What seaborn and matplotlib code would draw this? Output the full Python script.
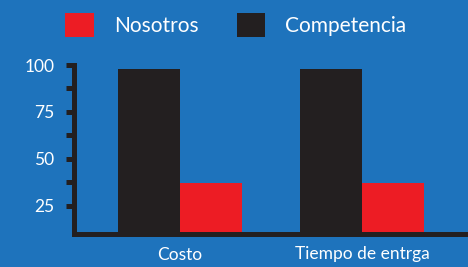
import pandas as pd
import seaborn as sns
import matplotlib.pyplot as plt
from matplotlib.patches import Patch
from matplotlib.ticker import MultipleLocator, FixedLocator

# datos
categorias = ['Costo', 'Tiempo de entrga']
competencia = [98, 98]
nosotros = [37, 37]
series = ['Competencia', 'Nosotros']
colores = {'Competencia': '#231f20', 'Nosotros': '#ed1c24'}

fondo = '#1e73bc'
oscuro = '#231f20'

df = pd.DataFrame({
    'categoria': categorias * 2,
    'serie': ['Competencia'] * len(categorias) + ['Nosotros'] * len(categorias),
    'valor': competencia + nosotros,
})

sns.set_style('white')
plt.rcParams['font.family'] = ['Lato', 'DejaVu Sans']

fig = plt.figure(figsize=(4.68, 2.67), dpi=100, facecolor=fondo)
ax = fig.add_axes([74 / 468, 1 - 234 / 267, 392 / 468, 169 / 267])
ax.set_facecolor(fondo)

sns.barplot(data=df, x='categoria', y='valor', hue='serie', hue_order=series,
            palette=colores, saturation=1, width=0.68, gap=0, linewidth=0,
            ax=ax, legend=False)

ax.set_xlim(-0.58, 1.57)
ax.set_ylim(10, 100)
ax.yaxis.set_major_locator(MultipleLocator(25))
ax.yaxis.set_minor_locator(FixedLocator([37.5, 62.5, 87.5]))
ax.set_xlabel('')
ax.set_ylabel('')

for s in ['top', 'right']:
    ax.spines[s].set_visible(False)
for s in ['left', 'bottom']:
    ax.spines[s].set_color(oscuro)
    ax.spines[s].set_linewidth(3.6)

ax.tick_params(axis='y', which='both', direction='out', length=6, width=3.6,
               color=oscuro, labelcolor='white', labelsize=12.5, pad=8, left=True)
ax.tick_params(axis='x', length=0, labelcolor='white', labelsize=12.5, pad=9)

handles = [Patch(facecolor=colores['Nosotros'], linewidth=0, label='Nosotros'),
           Patch(facecolor=colores['Competencia'], linewidth=0, label='Competencia')]
fig.legend(handles=handles, loc='center', bbox_to_anchor=(236 / 468, 1 - 25 / 267),
           ncol=2, frameon=False, fontsize=15, labelcolor='white',
           handlelength=1.35, handleheight=1.35, handletextpad=1.0, columnspacing=1.8)

plt.savefig('out.png', dpi=100, facecolor=fondo)
